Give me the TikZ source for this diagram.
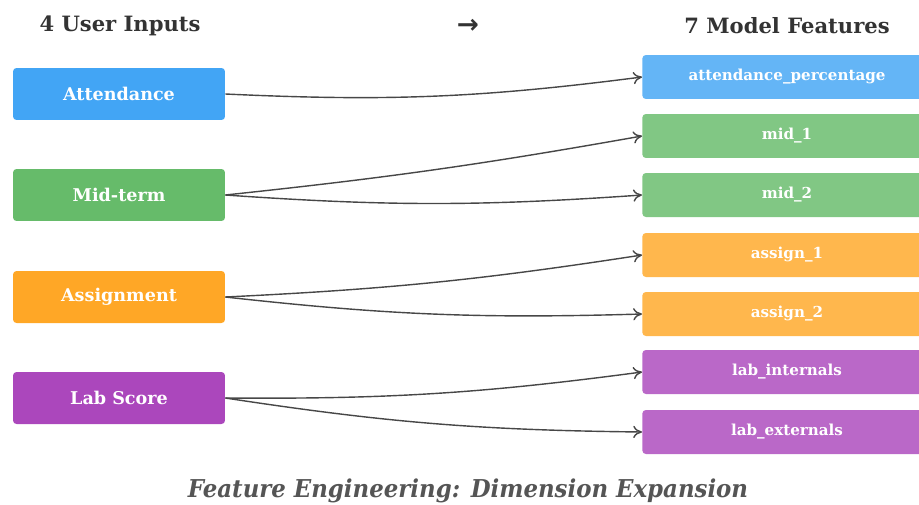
\documentclass[tikz,border=0pt]{standalone}
\usepackage{fontspec}
\setmainfont{DejaVu Serif}
\newfontfamily\arrowfont{DejaVu Sans}
\usetikzlibrary{arrows.meta}

\definecolor{inblue}{HTML}{42A5F5}
\definecolor{ingreen}{HTML}{66BB6A}
\definecolor{inorange}{HTML}{FFA726}
\definecolor{inpurple}{HTML}{AB47BC}
\definecolor{outblue}{HTML}{64B5F6}
\definecolor{outgreen}{HTML}{81C784}
\definecolor{outorange}{HTML}{FFB74D}
\definecolor{outpurple}{HTML}{BA68C8}
\definecolor{headtxt}{HTML}{333333}
\definecolor{captxt}{HTML}{555555}

\begin{document}
\begin{tikzpicture}[x=0.02cm,y=-0.02cm,
    inbox/.style={rectangle,rounded corners=2pt,inner sep=0pt,minimum width=4.24cm,minimum height=1.04cm,text=white,font=\bfseries\fontsize{10}{12}\selectfont},
    outbox/.style={rectangle,rounded corners=2pt,inner sep=0pt,anchor=west,minimum width=5.8cm,minimum height=0.88cm,text=white,font=\bfseries\fontsize{8.6}{10}\selectfont},
    outlbl/.style={text=white,font=\bfseries\fontsize{8.6}{10}\selectfont},
    head/.style={text=headtxt,font=\bfseries\fontsize{12}{14}\selectfont},
    link/.style={draw=black!72,line width=0.8pt,-{To[length=5pt,width=7pt]}}]
                \useasboundingbox (0,0) rectangle (919,504);

                % headers
                \node[head] (hin) at (120,26) {4 User Inputs};
                \node[head] (harr) at (468,26) {\arrowfont\fontsize{15}{15}\selectfont →};
                \node[head] (hout) at (787,26) {7 Model Features};

                % user inputs
                \node[inbox,fill=inblue] (att) at (119,94) {Attendance};
                \node[inbox,fill=ingreen] (mid) at (119,195) {Mid-term};
                \node[inbox,fill=inorange] (asg) at (119,297) {Assignment};
                \node[inbox,fill=inpurple] (lab) at (119,398) {Lab Score};

                % model features
                \node[outbox,fill=outblue] (attp) at (642,77) {};
                \node[outbox,fill=outgreen] (mid1) at (642,136) {};
                \node[outbox,fill=outgreen] (mid2) at (642,195) {};
                \node[outbox,fill=outorange] (asg1) at (642,255) {};
                \node[outbox,fill=outorange] (asg2) at (642,314) {};
                \node[outbox,fill=outpurple] (labi) at (642,372) {};
                \node[outbox,fill=outpurple] (labe) at (642,432) {};

                \node[outlbl] at (787,77) {attendance\_percentage};
                \node[outlbl] at (787,136) {mid\_1};
                \node[outlbl] at (787,195) {mid\_2};
                \node[outlbl] at (787,255) {assign\_1};
                \node[outlbl] at (787,314) {assign\_2};
                \node[outlbl] at (787,372) {lab\_internals};
                \node[outlbl] at (787,432) {lab\_externals};

                \draw [link] (att.east) to[bend right=5] (attp.west);
                \draw [link] (mid.east) to[bend right=2] (mid1.west);
                \draw [link] (mid.east) to[bend right=4] (mid2.west);
                \draw [link] (asg.east) to[bend right=3] (asg1.west);
                \draw [link] (asg.east) to[bend right=4] (asg2.west);
                \draw [link] (lab.east) to[bend right=4] (labi.west);
                \draw [link] (lab.east) to[bend right=4] (labe.west);

                \node[text=captxt,font=\bfseries\itshape\fontsize{14}{16}\selectfont] (cap) at (468,491)
                    {\scalebox{0.93}[1]{Feature Engineering: Dimension Expansion}};
            \end{tikzpicture}
\end{document}
